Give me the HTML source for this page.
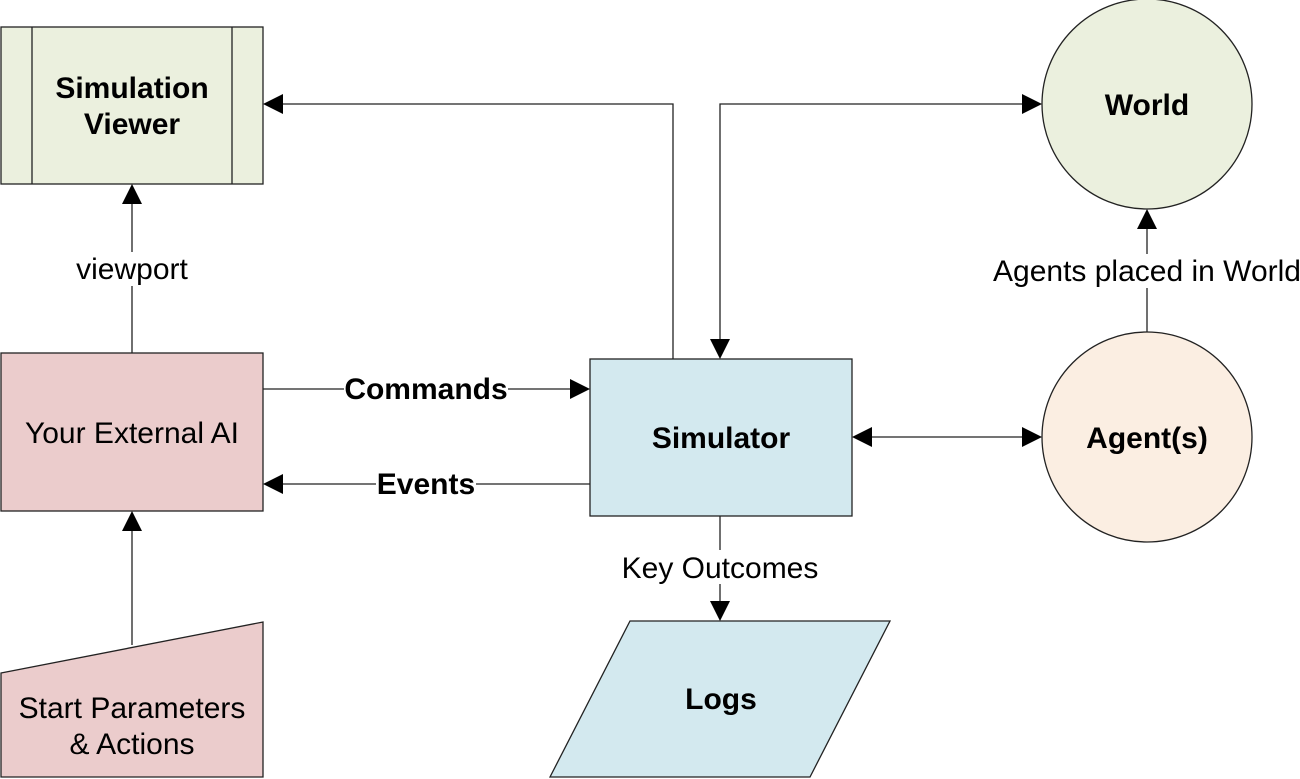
<!DOCTYPE html>
<html><head><style>html,body{margin:0;padding:0;background:#fff}svg{display:block}text{font-family:"Liberation Sans",Arial,sans-serif}</style></head>
<body>
<svg width="1300" height="779" xmlns="http://www.w3.org/2000/svg">
<g stroke="#222" stroke-width="1.3">
<rect x="1" y="27" width="262" height="157" fill="#ebf0de"/>
<line x1="32" y1="27" x2="32" y2="184"/><line x1="232" y1="27" x2="232" y2="184"/>
<rect x="1" y="353" width="262" height="158" fill="#ebcccc"/>
<polygon points="1,673 263,622 263,777 1,777" fill="#ebcccc"/>
<rect x="590" y="359" width="262" height="157" fill="#d3e9ef"/>
<polygon points="550,777 630,621 890,621 810,777" fill="#d3e9ef"/>
<circle cx="1147" cy="104" r="105" fill="#ebf0de"/>
<circle cx="1147" cy="437" r="105" fill="#fbeee2"/>
<g fill="none">
<line x1="132" y1="353" x2="132" y2="204"/>
<line x1="132" y1="645" x2="132" y2="531"/>
<line x1="263" y1="389" x2="570" y2="389"/>
<line x1="590" y1="484" x2="283" y2="484"/>
<polyline points="673,359 673,104 283,104"/>
<polyline points="720,339 720,104 1022,104"/>
<line x1="872" y1="437" x2="1022" y2="437"/>
<line x1="1147" y1="332" x2="1147" y2="229"/>
<line x1="720" y1="516" x2="720" y2="601"/>
</g>
</g>
<g fill="#000">
<polygon points="132,184 122,204 142,204"/>
<polygon points="132,511 122,531 142,531"/>
<polygon points="590,389 570,379 570,399"/>
<polygon points="263,484 283,474 283,494"/>
<polygon points="263,104 283,94 283,114"/>
<polygon points="1042,104 1022,94 1022,114"/>
<polygon points="720,359 710,339 730,339"/>
<polygon points="852,437 872,427 872,447"/>
<polygon points="1042,437 1022,427 1022,447"/>
<polygon points="1147,209 1137,229 1157,229"/>
<polygon points="720,621 710,601 730,601"/>
</g>
<g text-anchor="middle" font-size="30" fill="#000">
<rect x="70" y="252" width="124" height="34" fill="#fff"/>
<text x="132" y="279">viewport</text>
<rect x="990" y="254" width="314" height="34" fill="#fff"/>
<text x="1147" y="281">Agents placed in World</text>
<rect x="618" y="550" width="204" height="34" fill="#fff"/>
<text x="720" y="578">Key Outcomes</text>
<text x="132" y="443">Your External AI</text>
<text x="132" y="718">Start Parameters</text>
<text x="132" y="754">&amp; Actions</text>
<g font-weight="bold">
<text x="132" y="98">Simulation</text>
<text x="132" y="134">Viewer</text>
<text x="1147" y="115">World</text>
<text x="1147" y="448">Agent(s)</text>
<text x="721" y="448">Simulator</text>
<text x="721" y="709">Logs</text>
<rect x="344" y="372" width="164" height="34" fill="#fff"/>
<text x="426" y="399">Commands</text>
<rect x="376" y="467" width="100" height="34" fill="#fff"/>
<text x="426" y="494">Events</text>
</g>
</g>
</svg>
</body></html>
